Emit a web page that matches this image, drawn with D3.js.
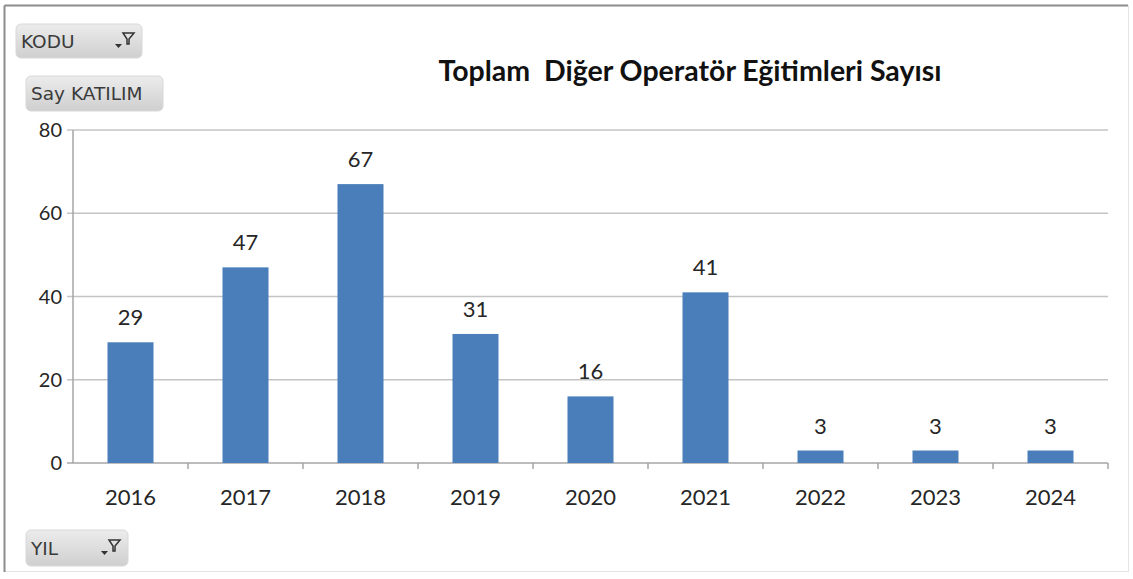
<!DOCTYPE html>
<html>
<head>
<meta charset="utf-8">
<script src="https://cdn.jsdelivr.net/npm/d3@7"></script>
<style>
  body { margin: 0; background: #fff; }
  text { font-family: Lato, "Open Sans", sans-serif; }
</style>
</head>
<body>
<div id="chart"></div>
<script>
const years = ["2016", "2017", "2018", "2019", "2020", "2021", "2022", "2023", "2024"];
const counts = [29, 47, 67, 31, 16, 41, 3, 3, 3];
const yTicks = [0, 20, 40, 60, 80];
const title = "Toplam  Diğer Operatör Eğitimleri Sayısı";

const W = 1133, H = 579;
const plot = { left: 73, right: 1108, top: 130, bottom: 463 };

const svg = d3.select("#chart").append("svg")
    .attr("width", W)
    .attr("height", H);

// chart frame
svg.append("rect")
   .attr("x", 4.5).attr("y", 5.5)
   .attr("width", 1124).attr("height", 566)
   .attr("fill", "#fff")
   .attr("stroke", "#e4e4e4");
svg.append("line").attr("x1", 4.5).attr("x2", 1128).attr("y1", 5.5).attr("y2", 5.5)
   .attr("stroke", "#8c8c8c").attr("stroke-width", 2);
svg.append("line").attr("x1", 4.5).attr("x2", 4.5).attr("y1", 5.5).attr("y2", 572)
   .attr("stroke", "#8c8c8c").attr("stroke-width", 2);

const x = d3.scaleBand()
    .domain(years)
    .range([plot.left, plot.right])
    .paddingInner(0.6)
    .paddingOuter(0.3);

const y = d3.scaleLinear()
    .domain([0, 80])
    .range([plot.bottom, plot.top]);

// gridlines
svg.append("g")
   .selectAll("line")
   .data(yTicks)
   .enter()
   .append("line")
   .attr("x1", plot.left - 6)
   .attr("x2", plot.right)
   .attr("y1", d => y(d))
   .attr("y2", d => y(d))
   .attr("stroke", d => d === 0 ? "#a6a6a6" : "#c4c4c4")
   .attr("stroke-width", 1.5);

// y axis line
svg.append("line")
   .attr("x1", plot.left).attr("x2", plot.left)
   .attr("y1", plot.top).attr("y2", plot.bottom)
   .attr("stroke", "#a6a6a6").attr("stroke-width", 1.5);

// y tick labels
svg.append("g")
   .selectAll("text")
   .data(yTicks)
   .enter()
   .append("text")
   .attr("x", plot.left - 11)
   .attr("y", d => y(d))
   .attr("dy", "0.36em")
   .attr("text-anchor", "end")
   .attr("font-size", 20)
   .attr("fill", "#262626")
   .text(d => d);

// category tick marks between bands
const bounds = d3.range(years.length + 1).map(i => plot.left + i * (plot.right - plot.left) / years.length);
svg.append("g")
   .selectAll("line")
   .data(bounds.slice(1))
   .enter()
   .append("line")
   .attr("x1", d => d).attr("x2", d => d)
   .attr("y1", plot.bottom).attr("y2", plot.bottom + 6)
   .attr("stroke", "#a6a6a6").attr("stroke-width", 1.5);

// bars
svg.append("g")
   .selectAll("rect")
   .data(years)
   .enter()
   .append("rect")
   .attr("x", d => x(d))
   .attr("width", x.bandwidth())
   .attr("y", (d, i) => y(counts[i]))
   .attr("height", (d, i) => y(0) - y(counts[i]))
   .attr("fill", "#4a7ebb");

// data labels
svg.append("g")
   .selectAll("text")
   .data(years)
   .enter()
   .append("text")
   .attr("x", d => x(d) + x.bandwidth() / 2)
   .attr("y", (d, i) => y(counts[i]) - 17)
   .attr("text-anchor", "middle")
   .attr("font-size", 22)
   .attr("fill", "#262626")
   .text((d, i) => counts[i]);

// category labels
svg.append("g")
   .selectAll("text")
   .data(years)
   .enter()
   .append("text")
   .attr("x", d => x(d) + x.bandwidth() / 2)
   .attr("y", 505)
   .attr("text-anchor", "middle")
   .attr("font-size", 22)
   .attr("fill", "#262626")
   .text(d => d);

// title
svg.append("text")
   .attr("x", 690)
   .attr("y", 81)
   .attr("text-anchor", "middle")
   .attr("font-size", 28.5)
   .attr("font-weight", "bold")
   .attr("fill", "#111")
   .attr("xml:space", "preserve")
   .style("white-space", "pre")
   .text(title);

// pivot field buttons
const grad = svg.append("defs").append("linearGradient")
    .attr("id", "btn").attr("x1", 0).attr("x2", 0).attr("y1", 0).attr("y2", 1);
grad.append("stop").attr("offset", "0%").attr("stop-color", "#ececec");
grad.append("stop").attr("offset", "100%").attr("stop-color", "#cfcfcf");

const buttons = [
    { label: "KODU", x: 16, y: 24, w: 126, h: 34, filter: true },
    { label: "Say KATILIM", x: 26, y: 76, w: 137, h: 35, filter: false },
    { label: "YIL", x: 26, y: 530, w: 102, h: 36, filter: true }
];

const btn = svg.append("g").selectAll("g")
    .data(buttons)
    .enter()
    .append("g")
    .attr("transform", d => `translate(${d.x},${d.y})`);

btn.append("rect")
   .attr("width", d => d.w).attr("height", d => d.h)
   .attr("rx", 5)
   .attr("fill", "url(#btn)")
   .attr("stroke", "#d8d8d8");

btn.append("text")
   .attr("x", 5)
   .attr("y", d => d.h / 2)
   .attr("dy", "0.36em")
   .attr("font-size", 18.5)
   .style("font-family", "'DejaVu Sans', sans-serif")
   .attr("fill", "#3a3a3a")
   .text(d => d.label);

// filter icon
const icon = btn.filter(d => d.filter).append("g")
   .attr("transform", d => `translate(${d.w - 28},${d.h / 2 - 10})`);
icon.append("path")
   .attr("d", "M9,2 L20,2 L15,8 L15,13 L13,13 L13,8 Z")
   .attr("fill", "none")
   .attr("stroke", "#333")
   .attr("stroke-width", 1.5);
icon.append("path")
   .attr("d", "M1,13 L8,13 L4.5,17 Z")
   .attr("fill", "#333");
</script>
</body>
</html>
